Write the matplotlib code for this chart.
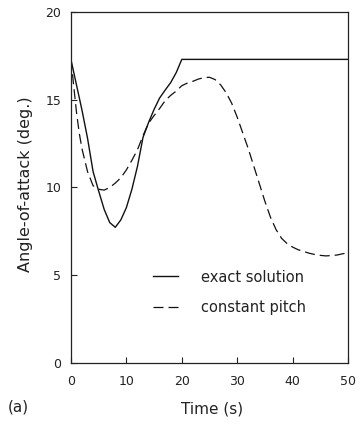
import numpy as np
import matplotlib.pyplot as plt

# exact solution
t_exact = [0, 1, 2, 3, 4, 5, 6, 7, 8, 9, 10, 11, 12, 13, 14, 15, 16, 17, 18, 19, 20, 50]
a_exact = [17.3, 15.85, 14.4, 12.8, 10.9, 9.8, 8.75, 8.0, 7.73, 8.15, 8.85, 9.9, 11.2,
           12.85, 13.7, 14.45, 15.1, 15.55, 15.98, 16.55, 17.3, 17.3]

# constant pitch
t_const = [0, 0.5, 1, 1.5, 2, 3, 4, 5, 6, 7, 8, 9, 10, 11, 12, 13, 14, 15, 16, 17, 18, 19,
           20, 21, 22, 23, 24, 25, 26, 27, 28, 29, 30, 31, 32, 33, 34, 35, 36, 37, 38, 39,
           40, 41, 42, 43, 44, 45, 46, 47, 48, 49, 50]
a_const = [17.3, 15.8, 14.3, 13.1, 12.2, 10.9, 10.1, 9.9, 9.85, 10.0, 10.25, 10.55, 11.0,
           11.55, 12.15, 12.95, 13.66, 14.1, 14.5, 14.95, 15.25, 15.5, 15.8, 15.95, 16.05,
           16.18, 16.26, 16.28, 16.15, 15.85, 15.4, 14.8, 14.0, 13.1, 12.2, 11.2, 10.2,
           9.2, 8.3, 7.6, 7.1, 6.8, 6.6, 6.45, 6.35, 6.25, 6.18, 6.13, 6.1, 6.12, 6.15,
           6.22, 6.28]

xticks = [0, 10, 20, 30, 40, 50]
yticks = [0, 5, 10, 15, 20]

ink = '#222222'

fig = plt.figure(figsize=(3.6, 4.29), dpi=100)
ax = fig.add_axes([0.197, 0.154, 0.77, 0.818])

ax.plot(t_exact, a_exact, color='#111111', lw=1.0, label='exact solution')
ax.plot(t_const, a_const, color='#111111', lw=0.9, dashes=(8, 4), label='constant pitch')

ax.set_xlim(0, 50)
ax.set_ylim(0, 20)
ax.set_xticks(xticks)
ax.set_yticks(yticks)
ax.tick_params(direction='in', length=4, width=0.8, labelsize=9, pad=9,
               color=ink, labelcolor=ink)
ax.tick_params(axis='y', pad=7)
for s in ax.spines.values():
    s.set_linewidth(0.9)
    s.set_color(ink)

ax.set_xlabel('Time (s)', fontsize=11, color=ink)
ax.xaxis.set_label_coords(0.509, -0.11)
ax.set_ylabel('Angle-of-attack (deg.)', fontsize=11.5, color=ink)
ax.yaxis.set_label_coords(-0.137, 0.51)
fig.text(0.022, 0.04, '(a)', fontsize=11, color=ink)

leg = ax.legend(loc='upper left', bbox_to_anchor=(0.296, 0.266), frameon=False, fontsize=10.5,
                handlelength=1.7, handletextpad=1.6, labelspacing=1.09, borderpad=0,
                borderaxespad=0, labelcolor=ink)

fig.savefig('out.png', dpi=100)
